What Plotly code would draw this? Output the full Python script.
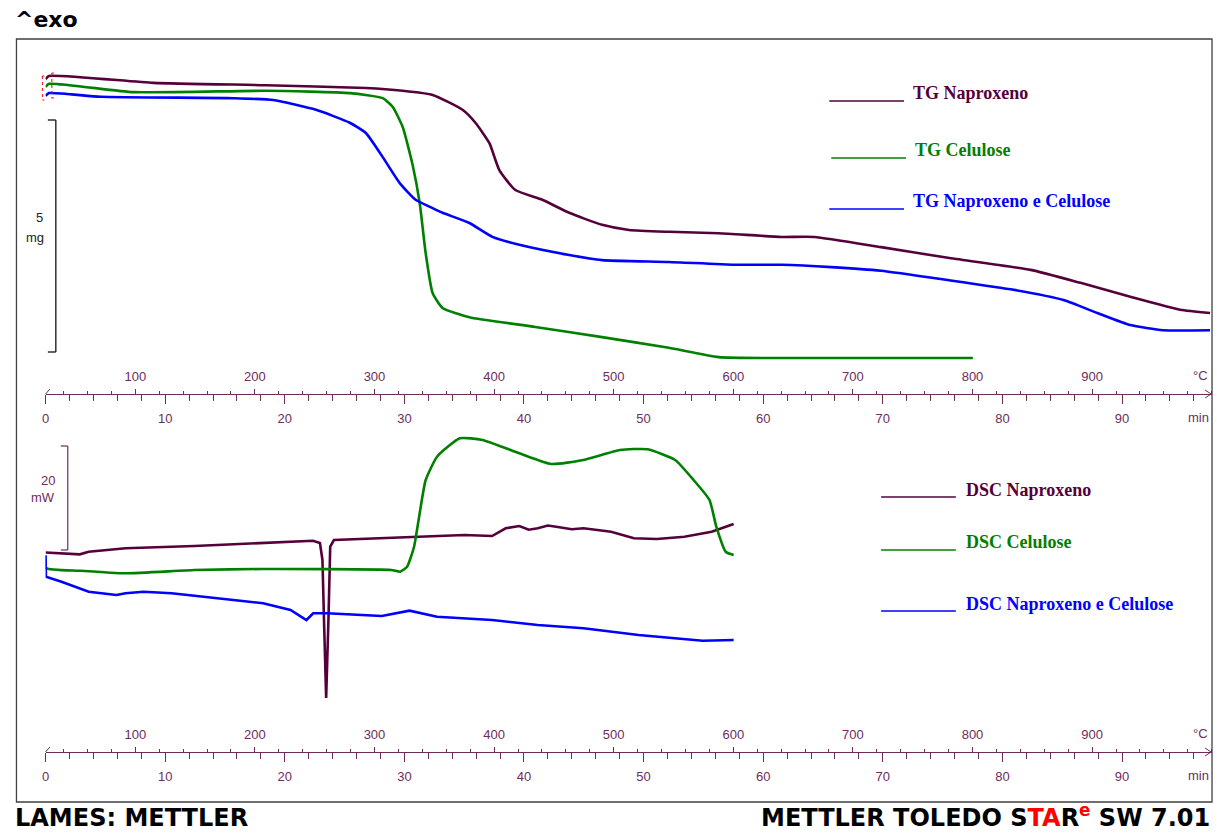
import plotly.graph_objects as go

W, H = 1217, 834

# ---------------- data (time in min, TG in mg, DSC in mW; offsets arbitrary) ----------------
tg_nap_t = [0, 0.28, 9.03, 18.44, 26.78, 29.86, 32.36, 34.86, 35.94, 37.11, 37.94, 39.28, 41.53, 43.78,
            46.53, 48.78, 52.11, 56.28, 61.53, 64.28, 69.86, 75.44, 82.36, 86.53, 90.69, 94.86, 97.36]
tg_nap_m = [5.88, 5.95, 5.80, 5.75, 5.69, 5.63, 5.54, 5.22, 4.94, 4.50, 3.92, 3.49, 3.28, 3.00,
            2.74, 2.63, 2.59, 2.56, 2.48, 2.48, 2.26, 2.03, 1.77, 1.49, 1.19, 0.91, 0.84]

tg_cel_t = [0, 0.28, 7.36, 18.44, 25.44, 28.19, 29.03, 29.86, 30.69, 31.28, 31.78, 32.36, 33.19, 35.44,
            40.94, 46.53, 52.11, 56.28, 63.19, 77.53]
tg_cel_m = [5.71, 5.78, 5.60, 5.63, 5.58, 5.47, 5.28, 4.85, 4.03, 3.21, 2.13, 1.27, 0.95, 0.75,
            0.54, 0.32, 0.09, -0.11, -0.13, -0.13]

tg_mix_t = [0, 0.28, 4.61, 15.69, 19.03, 22.61, 25.44, 26.78, 28.19, 29.61, 30.94, 32.36, 33.19, 35.44,
            37.36, 39.61, 43.78, 46.53, 52.11, 57.61, 61.53, 65.69, 69.86, 75.44, 80.94, 85.11, 87.94,
            90.69, 93.44, 97.36]
tg_mix_m = [5.52, 5.58, 5.50, 5.47, 5.43, 5.22, 4.94, 4.72, 4.20, 3.64, 3.28, 3.10, 3.00, 2.78,
            2.48, 2.31, 2.09, 1.98, 1.94, 1.88, 1.88, 1.83, 1.75, 1.55, 1.34, 1.12, 0.84,
            0.58, 0.47, 0.47]

dsc_nap_t = [0, 2.86, 3.61, 6.69, 12.44, 18.19, 22.36, 22.94, 23.15, 23.28, 23.46, 23.65, 23.80, 24.11,
             29.66, 35.03, 37.33, 38.47, 39.61, 40.4, 41.15, 42.0, 42.69, 44.0, 44.98, 47.28, 49.19, 51.11,
             53.41, 55.69, 57.53]
dsc_nap_w = [-0.48, -0.83, -0.33, 0.33, 0.77, 1.40, 1.79, 1.35, -1.92, -13.46, -28.46, -13.46, 0.63, 1.92,
             2.44, 2.88, 2.69, 4.17, 4.62, 3.9, 4.17, 4.7, 4.48, 4.0, 4.17, 3.52, 2.25, 2.12,
             2.56, 3.52, 5.00]

dsc_cel_t = [0, 0.03, 2.86, 6.69, 12.44, 18.19, 28.90, 29.66, 30.23, 30.81, 31.19, 31.78, 32.73, 34.64,
             36.53, 39.61, 42.28, 44.98, 48.03, 50.34, 52.64, 54.18, 55.51, 56.08, 56.86, 57.53]
dsc_cel_w = [-0.96, -3.46, -3.98, -4.48, -3.85, -3.65, -3.85, -4.17, -3.21, 0.63, 5.77, 13.46, 17.94, 21.48,
             21.15, 18.60, 16.54, 17.31, 19.23, 19.37, 17.31, 13.46, 9.62, 4.48, -0.33, -0.96]

dsc_mix_t = [0, 0.03, 1.33, 3.61, 5.92, 6.69, 8.19, 10.53, 14.36, 18.19, 20.48, 21.81, 22.38, 23.53,
             28.11, 30.43, 32.73, 37.33, 41.15, 44.98, 49.58, 54.94, 57.53]
dsc_mix_w = [-1.15, -5.13, -6.10, -8.02, -8.65, -8.33, -8.02, -8.33, -9.29, -10.25, -11.54, -13.46, -12.17, -12.17,
             -12.69, -11.67, -12.83, -13.46, -14.42, -15.06, -16.35, -17.44, -17.31]

min_ticks = [0, 10, 20, 30, 40, 50, 60, 70, 80, 90]
degc_ticks = [100, 200, 300, 400, 500, 600, 700, 800, 900]
legend_tg = ["TG Naproxeno", "TG Celulose", "TG Naproxeno e Celulose"]
legend_dsc = ["DSC Naproxeno", "DSC Celulose", "DSC Naproxeno e Celulose"]

# ---------------- styles ----------------
C_NAP = "#55003a"
C_CEL = "#008000"
C_MIX = "#0000ff"
C_AX = "#6e2c5c"
SANS = "Liberation Sans, Arial, sans-serif"
WIDE = "DejaVu Sans, Verdana, sans-serif"
SERIF = "Liberation Serif, Times New Roman, serif"


def px(x):
    return x / W


def py(y):
    return 1 - y / H


X0, X1 = 41.7, 1212.0
T_MAX = (X1 - X0) / 12.0
XDOM = [px(X0), px(X1)]

fig = go.Figure()

lw = 2.6
smooth = dict(shape="spline", smoothing=0.5)
fig.add_trace(go.Scatter(x=tg_nap_t, y=tg_nap_m, mode="lines", line=dict(color=C_NAP, width=lw, **smooth), xaxis="x", yaxis="y"))
fig.add_trace(go.Scatter(x=tg_cel_t, y=tg_cel_m, mode="lines", line=dict(color=C_CEL, width=lw, **smooth), xaxis="x", yaxis="y"))
fig.add_trace(go.Scatter(x=tg_mix_t, y=tg_mix_m, mode="lines", line=dict(color=C_MIX, width=lw, **smooth), xaxis="x", yaxis="y"))
fig.add_trace(go.Scatter(x=dsc_nap_t, y=dsc_nap_w, mode="lines", line=dict(color=C_NAP, width=lw), xaxis="x2", yaxis="y2"))
fig.add_trace(go.Scatter(x=dsc_cel_t, y=dsc_cel_w, mode="lines", line=dict(color=C_CEL, width=lw, **smooth), xaxis="x2", yaxis="y2"))
fig.add_trace(go.Scatter(x=dsc_mix_t, y=dsc_mix_w, mode="lines", line=dict(color=C_MIX, width=lw), xaxis="x2", yaxis="y2"))
# invisible traces to hold the temperature axes
fig.add_trace(go.Scatter(x=[25, 1000], y=[0, 0], mode="lines", line=dict(width=0), opacity=0, xaxis="x3", yaxis="y", hoverinfo="skip"))
fig.add_trace(go.Scatter(x=[25, 1000], y=[0, 0], mode="lines", line=dict(width=0), opacity=0, xaxis="x4", yaxis="y2", hoverinfo="skip"))

TOP_AX_Y, BOT_AX_Y = 394, 752


def min_axis(anchor):
    return dict(domain=XDOM, range=[0, T_MAX], anchor=anchor, showline=True, linecolor=C_AX, linewidth=1,
                ticks="outside", ticklen=9, tickwidth=1, tickcolor=C_AX, tickvals=min_ticks,
                tickfont=dict(family=SANS, size=13, color=C_AX),
                minor=dict(ticks="outside", ticklen=6, tickwidth=1, tickcolor=C_AX, dtick=2, tick0=0),
                showgrid=False, zeroline=False, fixedrange=True, ticklabelstandoff=3)


def degc_axis(overlay, pos):
    return dict(domain=XDOM, range=[25, 25 + 10 * T_MAX], overlaying=overlay, anchor="free", position=pos,
                side="top", showline=False, ticks="outside", ticklen=5, tickwidth=1, tickcolor=C_AX,
                tickvals=degc_ticks, tickfont=dict(family=SANS, size=13, color=C_AX),
                minor=dict(ticks="outside", ticklen=3, tickwidth=1, tickcolor=C_AX, dtick=20, tick0=0),
                showgrid=False, zeroline=False, fixedrange=True, ticklabelstandoff=3)


# y ranges: mg = (352 - Y)/46.4 ; mW = (550 - Y)/5.2
Y_TOP_TOP, Y_BOT_TOP = 60, 430
fig.update_layout(
    width=W, height=H, margin=dict(l=0, r=0, t=0, b=0), autosize=False,
    paper_bgcolor="white", plot_bgcolor="white", showlegend=False,
    xaxis=min_axis("y"),
    xaxis2=min_axis("y2"),
    xaxis3=degc_axis("x", py(TOP_AX_Y)),
    xaxis4=degc_axis("x2", py(BOT_AX_Y)),
    yaxis=dict(domain=[py(TOP_AX_Y), py(Y_TOP_TOP)], range=[(352 - TOP_AX_Y) / 46.4, (352 - Y_TOP_TOP) / 46.4],
               visible=False, fixedrange=True),
    yaxis2=dict(domain=[py(BOT_AX_Y), py(Y_BOT_TOP)], range=[(550 - BOT_AX_Y) / 5.2, (550 - Y_BOT_TOP) / 5.2],
                visible=False, fixedrange=True),
)

shapes = []
# frame
shapes.append(dict(type="rect", xref="paper", yref="paper", x0=px(12.5), x1=px(1212), y0=py(802), y1=py(39),
                   line=dict(color="#404040", width=1.3)))
# axis arrows
for yy in (TOP_AX_Y, BOT_AX_Y):
    shapes.append(dict(type="path", xref="paper", yref="paper",
                       path=f"M {px(1205)} {py(yy-4)} L {px(1211)} {py(yy)} L {px(1205)} {py(yy+4)}",
                       line=dict(color=C_AX, width=1)))
    shapes.append(dict(type="line", xref="paper", yref="paper", x0=px(41.7), x1=px(46), y0=py(yy), y1=py(yy - 5),
                       line=dict(color=C_AX, width=1)))
# 5 mg scale bar
for (x0, x1, y0, y1) in [(52, 52, 0, 5), (44, 52, 0, 0), (44, 52, 5, 5)]:
    shapes.append(dict(type="line", xref="paper", yref="y", x0=px(x0), x1=px(x1), y0=y0, y1=y1,
                       line=dict(color="#111111", width=1.3)))
# 20 mW scale bar
for (x0, x1, y0, y1) in [(64, 64, 0, 20), (57, 64, 0, 0), (57, 64, 20, 20)]:
    shapes.append(dict(type="line", xref="paper", yref="y2", x0=px(x0), x1=px(x1), y0=y0, y1=y1,
                       line=dict(color=C_AX, width=1.2)))
# red start markers
for xx, ya, yb in [(38.5, 76, 100), (48, 73, 98)]:
    shapes.append(dict(type="line", xref="paper", yref="paper", x0=px(xx), x1=px(xx), y0=py(ya), y1=py(yb),
                       line=dict(color="red", width=1, dash="dot")))
    for yy in (ya, yb):
        shapes.append(dict(type="line", xref="paper", yref="paper", x0=px(xx), x1=px(xx + 2), y0=py(yy), y1=py(yy),
                           line=dict(color="red", width=1)))

annotations = []


def txt(x, y, s, size, color="black", family=SANS, xanchor="left", yanchor="middle"):
    annotations.append(dict(x=px(x), y=py(y), xref="paper", yref="paper", text=s, showarrow=False,
                            xanchor=xanchor, yanchor=yanchor, font=dict(family=family, size=size, color=color)))


# legends
colors = [C_NAP, C_CEL, C_MIX]
tg_pos = [(828, 101, 910, 93), (830, 158, 912, 150), (828, 209, 910, 201)]
dsc_pos = [(880, 497, 963, 490), (880, 550, 963, 542), (880, 611, 963, 604)]
for labels, pos in ((legend_tg, tg_pos), (legend_dsc, dsc_pos)):
    for lab, (lx, ly, tx, ty), c in zip(labels, pos, colors):
        shapes.append(dict(type="line", xref="paper", yref="paper", x0=px(lx), x1=px(lx + 75), y0=py(ly), y1=py(ly),
                           line=dict(color=c, width=1.3)))
        txt(tx, ty, "<b>" + lab + "</b>", 18, c, SERIF)

# axis end labels
for yy in (TOP_AX_Y, BOT_AX_Y):
    txt(1210, yy - 19, "°C", 13, C_AX, xanchor="right")
    txt(1211, yy + 23, "min", 13, C_AX, xanchor="right")

# scale labels
txt(41, 218, "5", 13, "#222222", xanchor="right")
txt(42, 237, "mg", 13, "#222222", xanchor="right")
txt(53, 480, "20", 13, C_AX, xanchor="right")
txt(53, 498, "mW", 13, C_AX, xanchor="right")

# titles
txt(9, 20, "<b>^exo</b>", 22, family=WIDE)
txt(9, 834, "<b>LAMES: METTLER</b>", 24, family=WIDE, yanchor="bottom")
txt(1212, 834, '<b>METTLER TOLEDO S<span style="color:red">TA</span>R<sup><span style="color:red">e</span></sup> SW 7.01</b>',
    24, family=WIDE, xanchor="right", yanchor="bottom")

fig.update_layout(shapes=shapes, annotations=annotations)

fig.write_html("out.html", config={"displayModeBar": False},
               post_script="document.body.style.margin='0';document.body.style.overflow='hidden';")
